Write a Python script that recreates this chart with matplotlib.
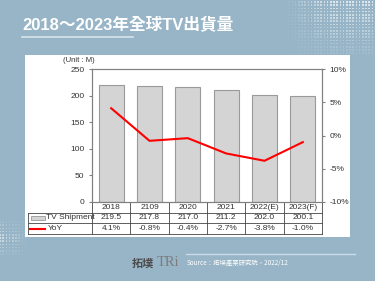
import numpy as np
import matplotlib.pyplot as plt
from matplotlib.patches import Rectangle

plt.rcParams['font.family'] = ['Liberation Sans', 'Noto Sans CJK TC', 'DejaVu Sans']

years = ['2018', '2109', '2020', '2021', '2022(E)', '2023(F)']
shipment = [219.5, 217.8, 217.0, 211.2, 202.0, 200.1]
yoy = [4.1, -0.8, -0.4, -2.7, -3.8, -1.0]
shipment_labels = ['219.5', '217.8', '217.0', '211.2', '202.0', '200.1']
yoy_labels = ['4.1%', '-0.8%', '-0.4%', '-2.7%', '-3.8%', '-1.0%']

BG = '#97b5c7'
W, H = 375, 281

fig = plt.figure(figsize=(W / 100, H / 100), dpi=100)
fig.patch.set_facecolor(BG)

# full-figure overlay in pixel coords for decoration and the table
bg = fig.add_axes([0, 0, 1, 1], zorder=0)
bg.set_xlim(0, W)
bg.set_ylim(H, 0)
bg.set_axis_off()

# dotted decoration, top right
gx, gy = np.meshgrid(np.arange(286, 376, 3.2), np.arange(2, 56, 3.2))
alpha = np.clip((gx - 286) / 45, 0, 1) * np.clip(1 - gy / 62, 0, 1)
bg.scatter(gx.ravel(), gy.ravel(), s=1.1, linewidths=0, marker='s',
           c=[(1, 1, 1, a * 0.7) for a in alpha.ravel()], zorder=1)
# dotted decoration, bottom left
gx2, gy2 = np.meshgrid(np.arange(0, 30, 3.2), np.arange(222, 256, 3.2))
a2 = np.clip(1 - gx2 / 30, 0, 1) * np.clip(1 - np.abs(gy2 - 238) / 20, 0, 1)
bg.scatter(gx2.ravel(), gy2.ravel(), s=1.1, linewidths=0, marker='s',
           c=[(1, 1, 1, a * 0.6) for a in a2.ravel()], zorder=1)

bg.add_patch(Rectangle((25, 55), 325, 182, facecolor='white', edgecolor='none', zorder=2))

bg.text(22, 25, '2018～2023年全球TV出貨量', color='white', fontsize=12,
        fontweight='bold', va='center', ha='left', zorder=3,
        family=['Liberation Sans', 'Noto Sans CJK TC'])
bg.plot([22, 133], [37, 37], color='#d6e4ec', lw=1.2, zorder=3)
bg.text(63, 61, '(Unit : M)', fontsize=5.5, color='#333333', va='center', zorder=3)

# source footer
bg.text(132, 263, '拓墣', fontsize=8, fontweight='bold', color='#4a4a4a',
        va='center', family=['Noto Sans CJK TC'], zorder=3)
bg.text(157, 263, 'TRi', fontsize=10.5, color='#7d7d7d', va='center',
        family=['Liberation Serif'], zorder=3)
bg.plot([186, 355], [254, 254], color='#c8dbe6', lw=1, zorder=3)
bg.text(187, 263, 'Source：拓墣產業研究院，2022/12', fontsize=4.6, color='white',
        va='center', family=['Noto Sans CJK TC', 'Liberation Sans'], zorder=3)

# main chart
x0, x1, ytop, ybot = 92, 322, 69, 202
ax = fig.add_axes([x0 / W, 1 - ybot / H, (x1 - x0) / W, (ybot - ytop) / H], zorder=4)
ax.patch.set_alpha(0)
xs = np.arange(len(years))
ax.bar(xs, shipment, width=0.65, color='#d4d4d4', edgecolor='#9a9a9a', lw=0.8)
ax.set_xlim(-0.5, len(years) - 0.5)
ax.set_ylim(0, 250)
ax.set_yticks(range(0, 251, 50))
ax.set_xticks([])
ax.tick_params(axis='y', labelsize=6, length=2.5, color='#808080',
               labelcolor='#333333', pad=3)

ax2 = ax.twinx()
ax2.plot(xs, yoy, color='#ff0000', lw=1.5)
ax2.set_ylim(-10, 10)
ax2.set_yticks([-10, -5, 0, 5, 10])
ax2.set_yticklabels(['-10%', '-5%', '0%', '5%', '10%'])
ax2.tick_params(axis='y', labelsize=6, length=2.5, color='#808080',
                labelcolor='#333333', pad=3)
for a in (ax, ax2):
    for s in a.spines.values():
        s.set_color('#808080')
        s.set_linewidth(0.8)

# data table below the chart
cw = (x1 - x0) / len(years)
r0, r1, r2, r3 = 202, 212.5, 223, 233.5
lc, lw = '#444444', 0.6
lx = 28
bg.plot([x0, x1], [r0, r0], color=lc, lw=lw, zorder=5)
for yy in (r1, r2, r3):
    bg.plot([lx, x1], [yy, yy], color=lc, lw=lw, zorder=5)
bg.plot([lx, lx], [r1, r3], color=lc, lw=lw, zorder=5)
for i in range(len(years) + 1):
    bg.plot([x0 + i * cw] * 2, [r0, r3], color=lc, lw=lw, zorder=5)
for i in range(len(years)):
    cx = x0 + (i + 0.5) * cw
    bg.text(cx, (r0 + r1) / 2, years[i], ha='center', va='center', fontsize=6,
            color='#333333', zorder=5)
    bg.text(cx, (r1 + r2) / 2, shipment_labels[i], ha='center', va='center',
            fontsize=6, color='#333333', zorder=5)
    bg.text(cx, (r2 + r3) / 2, yoy_labels[i], ha='center', va='center',
            fontsize=6, color='#333333', zorder=5)
bg.add_patch(Rectangle((30.5, 215.5), 14.5, 4.5, facecolor='#d4d4d4',
                       edgecolor='#9a9a9a', lw=0.6, zorder=5))
bg.text(46, (r1 + r2) / 2, 'TV Shipment', ha='left', va='center', fontsize=6,
        color='#333333', zorder=5)
bg.plot([30, 45], [228.5, 228.5], color='#ff0000', lw=1.5, zorder=5)
bg.text(48, (r2 + r3) / 2, 'YoY', ha='left', va='center', fontsize=6,
        color='#333333', zorder=5)

fig.savefig('out.png', dpi=100, facecolor=BG)
